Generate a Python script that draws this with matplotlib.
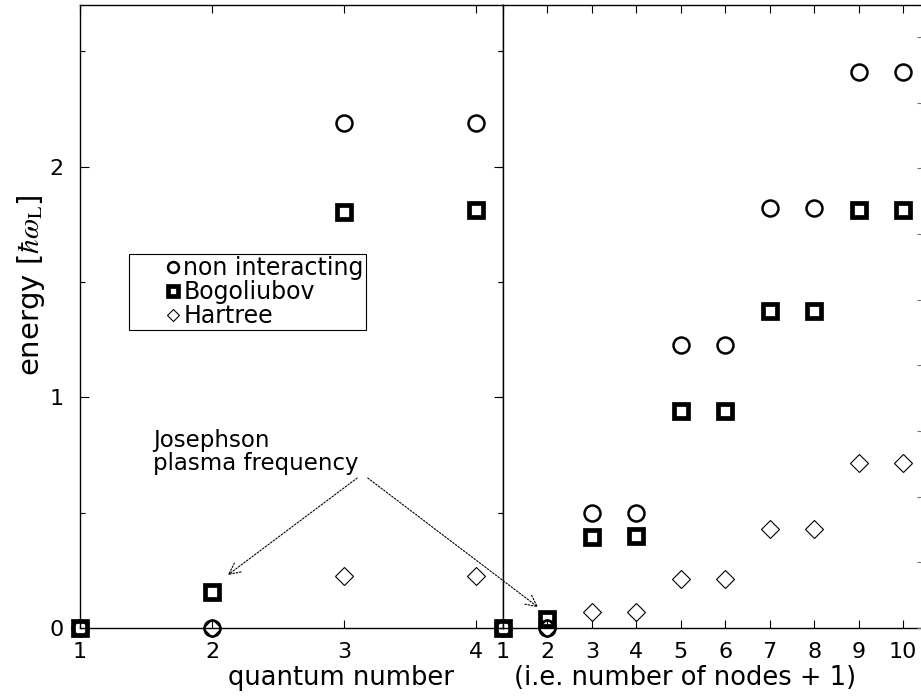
import matplotlib
matplotlib.use("Agg")
import matplotlib.pyplot as plt
from matplotlib.legend_handler import HandlerLine2D
from matplotlib.lines import Line2D

plt.rcParams.update({
    "font.family": "DejaVu Sans",
    "font.size": 16,
    "mathtext.fontset": "stix",
    "axes.linewidth": 1.0,
})

# left panel: quantum number 1..4
qn_left = [1, 2, 3, 4]
nonint_left = [0.0, 0.0, 2.19, 2.19]
bogo_left = [0.0, 0.155, 1.805, 1.81]
hartree_left = [0.0, 0.0, 0.226, 0.226]

# right panel: quantum number 1..10 (number of nodes + 1)
qn_right = [1, 2, 3, 4, 5, 6, 7, 8, 9, 10]
nonint_right = [0.0, 0.0, 0.50, 0.50, 1.225, 1.225, 1.82, 1.82, 2.41, 2.41]
bogo_right = [0.0, 0.04, 0.395, 0.40, 0.94, 0.94, 1.375, 1.375, 1.81, 1.81]
hartree_right = [0.0, 0.0, 0.068, 0.068, 0.213, 0.213, 0.43, 0.43, 0.715, 0.715]


class RightMarker(HandlerLine2D):
    """Key sample with the marker pushed to the right end of its slot."""

    def create_artists(self, legend, orig_handle, xdescent, ydescent, width, height,
                       fontsize, trans):
        arts = super().create_artists(legend, orig_handle, xdescent, ydescent, width,
                                      height, fontsize, trans)
        x = -xdescent + width - 0.22 * fontsize
        for a in arts:
            a.set_xdata([x] * len(a.get_xdata()))
        return arts


W, H = 921, 697
fig = plt.figure(figsize=(W / 100, H / 100), dpi=100)
ax1 = fig.add_axes([80 / W, 69 / H, 423 / W, 623 / H])
ax2 = fig.add_axes([503 / W, 69 / H, 418 / W, 623 / H])

circ = dict(marker="o", ms=11.5, mew=1.8, mfc="none", mec="black", ls="none", clip_on=False)
sq = dict(marker="s", ms=10, mew=3.4, mfc="none", mec="black", ls="none", clip_on=False)
dia = dict(marker="D", ms=9.2, mew=0.8, mfc="none", mec="black", ls="none", clip_on=False)

for ax, x, a, b, c in ((ax1, qn_left, nonint_left, bogo_left, hartree_left),
                       (ax2, qn_right, nonint_right, bogo_right, hartree_right)):
    ax.plot(x, a, label="non interacting", zorder=3, **circ)
    ax.plot(x, b, label="Bogoliubov", zorder=4, **sq)
    ax.plot(x, c, label="Hartree", zorder=5, **dia)
    ax.set_ylim(0, 2.7)
    ax.set_xticks(x)
    ax.tick_params(axis="x", direction="in", top=True, length=5.8, width=0.8,
                   pad=10, labelsize=16)

ax1.set_xlim(1, 4.2045)
ax2.set_xlim(1, 10.405)

ax1.set_yticks([0, 1, 2])
ax1.set_yticks([0.5, 1.5, 2.5], minor=True)
ax1.tick_params(axis="y", which="both", direction="in", right=True, width=0.8,
                pad=12, labelsize=16)
ax1.tick_params(axis="y", which="major", length=6.5)
ax1.tick_params(axis="y", which="minor", length=3.6)

ax2.tick_params(axis="y", left=False, labelleft=False)
ax2.spines["right"].set_visible(False)

# unlabelled ticks on the far right
ax3 = ax2.twinx()
ax3.set_ylim(0, 2.7 / 0.2846)
ax3.set_yticks(range(10))
ax3.tick_params(axis="y", direction="in", length=3.2, width=0.8, color="0.45",
                labelright=False)
for s in ax3.spines.values():
    s.set_visible(False)

leg = ax1.legend(loc="upper left", bbox_to_anchor=(0.116, 0.601), borderaxespad=0,
                 fontsize=17, frameon=True, fancybox=False, framealpha=1,
                 edgecolor="black", handlelength=2.0, handletextpad=0.2,
                 borderpad=0.1, labelspacing=0.0, markerscale=0.68,
                 handler_map={Line2D: RightMarker()})
leg.get_frame().set_linewidth(0.8)

fig.text(31 / W, 1 - 285 / H, r"energy [$\hbar\omega_{\rm L}$]", rotation=90,
         ha="center", va="center", fontsize=21)
fig.text(341 / W, 12 / H, "quantum number", ha="center", va="baseline", fontsize=18.5)
fig.text(685 / W, 12 / H, "(i.e. number of nodes + 1)", ha="center", va="baseline",
         fontsize=18.5)

ax1.text(1.553, 0.665, "Josephson\nplasma frequency", ha="left", va="bottom",
         fontsize=16.5, linespacing=1.0)
arrow = dict(arrowstyle="->,head_length=0.5,head_width=0.25", lw=0.8,
             linestyle=(0, (1.5, 1.5)), color="black", shrinkA=0, shrinkB=0)
ax1.annotate("", xy=(2.12, 0.23), xytext=(3.10, 0.65), arrowprops=arrow,
             annotation_clip=False)
ax2.annotate("", xy=(1.79, 0.09), xytext=(3.18, 0.65), textcoords=ax1.transData,
             arrowprops=arrow, annotation_clip=False)

fig.savefig("out.png", dpi=100)
